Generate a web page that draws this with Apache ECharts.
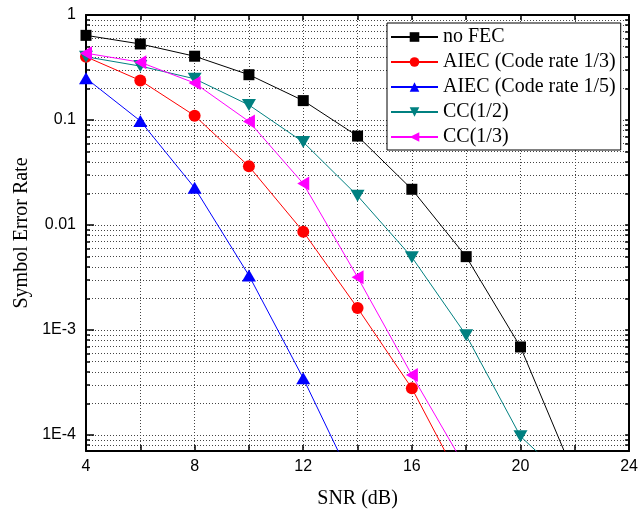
<!DOCTYPE html>
<html>
<head>
<meta charset="utf-8">
<script src="https://cdn.jsdelivr.net/npm/echarts@6/dist/echarts.min.js"></script>
<style>
  html, body { margin: 0; padding: 0; background: #fff; }
  #chart { width: 641px; height: 514px; }
</style>
</head>
<body>
<div id="chart"></div>
<script>
// SNR points (dB); the last values of each curve fall below the plot and get clipped
const snr = [4, 6, 8, 10, 12, 14, 16, 18, 20, 22];
const noFec = [0.64, 0.53, 0.405, 0.27, 0.153, 0.0703, 0.0219, 0.0050, 0.00069, 0.0000405];
const aiec13 = [0.40, 0.238, 0.110, 0.0362, 0.00865, 0.00162, 0.000279, 0.000029];
const aiec15 = [0.25, 0.098, 0.0226, 0.00331, 0.000347, 0.000029];
const cc12 = [0.40, 0.326, 0.247, 0.139, 0.0616, 0.019, 0.00494, 0.000893, 0.0000972, 0.000032];
const cc13 = [0.433, 0.355, 0.225, 0.0968, 0.0248, 0.00319, 0.000373, 0.000048];

const seriesNames = ['no FEC', 'AIEC (Code rate 1/3)', 'AIEC (Code rate 1/5)', 'CC(1/2)', 'CC(1/3)'];

const yMajor = [0.0001, 0.001, 0.01, 0.1, 1];
const yMajorLabels = ['1E-4', '1E-3', '0.01', '0.1', '1'];
const yMinor = [8e-5, 9e-5,
  2e-4, 3e-4, 4e-4, 5e-4, 6e-4, 7e-4, 8e-4, 9e-4,
  2e-3, 3e-3, 4e-3, 5e-3, 6e-3, 7e-3, 8e-3, 9e-3,
  0.02, 0.03, 0.04, 0.05, 0.06, 0.07, 0.08, 0.09,
  0.2, 0.3, 0.4, 0.5, 0.6, 0.7, 0.8, 0.9];

const yMin = 7.05e-5;
const serif = '"Liberation Serif", "Times New Roman", serif';
const sans = '"Liberation Sans", Arial, sans-serif';

function pairs(vals) {
  return vals.map((v, i) => [snr[i], v]);
}

function makeSeries(name, vals, color, symbol, size, rotate) {
  return {
    name: name,
    type: 'line',
    data: pairs(vals),
    symbol: symbol,
    symbolSize: size,
    symbolRotate: rotate || 0,
    clip: true,
    lineStyle: { color: color, width: 1 },
    itemStyle: { color: color },
    emphasis: { disabled: true },
    z: 5
  };
}

const chart = echarts.init(document.getElementById('chart'));

const dotted = { color: '#444', width: 1, type: [1, 2] };

chart.setOption({
  animation: false,
  backgroundColor: '#fff',
  grid: { left: 86, right: 10, top: 15, bottom: 61 },
  legend: {
    data: seriesNames,
    orient: 'vertical',
    left: 387,
    top: 23,
    backgroundColor: '#fff',
    borderColor: '#000',
    borderWidth: 1,
    padding: [4, 5, 3, 3],
    itemWidth: 47,
    itemHeight: 12,
    itemGap: 5,
    textStyle: { fontFamily: serif, fontSize: 20, color: '#000', lineHeight: 20 }
  },
  xAxis: [
    {
      type: 'value',
      position: 'bottom',
      min: 4,
      max: 24,
      interval: 2,
      name: 'SNR (dB)',
      nameLocation: 'middle',
      nameGap: 38,
      nameTextStyle: { fontFamily: serif, fontSize: 20, color: '#000' },
      axisLine: { onZero: false, lineStyle: { color: '#000', width: 2 } },
      axisTick: { inside: true, length: 6, lineStyle: { color: '#000', width: 1.5 } },
      axisLabel: {
        margin: 8,
        fontFamily: sans,
        fontSize: 16,
        color: '#000',
        formatter: v => (v % 4 === 0 ? String(v) : '')
      },
      splitLine: { show: true, lineStyle: dotted }
    },
    {
      type: 'value',
      position: 'top',
      min: 4,
      max: 24,
      interval: 2,
      axisLine: { onZero: false, lineStyle: { color: '#000', width: 2 } },
      axisTick: { inside: true, length: 5, lineStyle: { color: '#000', width: 1.5 } },
      axisLabel: { show: false },
      splitLine: { show: false }
    }
  ],
  yAxis: [
    {
      type: 'log',
      logBase: 10,
      position: 'left',
      min: yMin,
      max: 1,
      name: 'Symbol Error Rate',
      nameLocation: 'middle',
      nameRotate: 90,
      nameGap: 54,
      nameTextStyle: { fontFamily: serif, fontSize: 20, color: '#000' },
      axisLine: { onZero: false, lineStyle: { color: '#000', width: 2 } },
      axisTick: { inside: true, length: 8, customValues: yMajor, lineStyle: { color: '#000', width: 1.5 } },
      axisLabel: {
        customValues: yMajor,
        margin: 10,
        fontFamily: sans,
        fontSize: 16,
        color: '#000',
        formatter: v => {
          const i = yMajor.findIndex(m => Math.abs(Math.log10(v) - Math.log10(m)) < 1e-6);
          return i >= 0 ? yMajorLabels[i] : '';
        }
      },
      splitLine: { show: true, lineStyle: dotted }
    },
    {
      type: 'log',
      logBase: 10,
      position: 'left',
      min: yMin,
      max: 1,
      axisLine: { show: false },
      axisTick: { inside: true, length: 4, customValues: yMinor, lineStyle: { color: '#000', width: 1.5 } },
      axisLabel: { show: false },
      splitLine: { show: true, lineStyle: dotted }
    },
    {
      type: 'log',
      logBase: 10,
      position: 'right',
      min: yMin,
      max: 1,
      axisLine: { onZero: false, lineStyle: { color: '#000', width: 2 } },
      axisTick: { inside: true, length: 4, customValues: yMajor.concat(yMinor), lineStyle: { color: '#000', width: 1.5 } },
      axisLabel: { show: false },
      splitLine: { show: false }
    }
  ],
  series: [
    makeSeries(seriesNames[0], noFec, '#000000', 'rect', 11),
    makeSeries(seriesNames[1], aiec13, '#ff0000', 'circle', 12),
    makeSeries(seriesNames[2], aiec15, '#0000ff', 'triangle', [14, 12]),
    makeSeries(seriesNames[3], cc12, '#008080', 'triangle', [14, 12], 180),
    makeSeries(seriesNames[4], cc13, '#ff00ff', 'triangle', [14, 12], 90)
  ]
});
</script>
</body>
</html>
